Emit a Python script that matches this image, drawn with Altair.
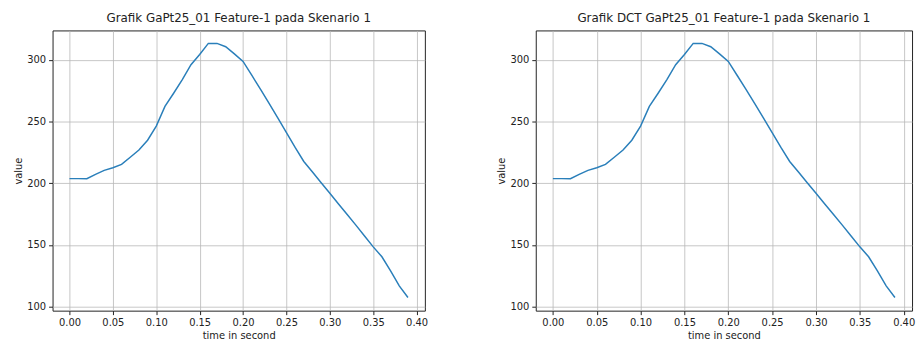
import altair as alt
import pandas as pd

time_s = [round(i * 0.01, 2) for i in range(40)]
values = [203.7, 203.7, 203.6, 207.2, 210.4, 212.5, 215.2, 221.0, 226.9, 234.8,
          246.3, 262.2, 272.9, 284.0, 296.0, 304.3, 313.3, 313.3, 310.6, 304.8,
          298.7, 287.5, 276.3, 264.6, 252.9, 241.0, 229.0, 217.6, 209.0, 200.3,
          191.8, 183.2, 174.7, 166.0, 157.2, 148.4, 140.4, 129.0, 116.8, 107.4]
titles = ["Grafik GaPt25_01 Feature-1 pada Skenario 1",
          "Grafik DCT GaPt25_01 Feature-1 pada Skenario 1"]
x_ticks = [0.0, 0.05, 0.10, 0.15, 0.20, 0.25, 0.30, 0.35, 0.40]
y_ticks = [100, 150, 200, 250, 300]

df = pd.DataFrame({"t": time_s, "v": values})

FONT = "DejaVu Sans"


def panel(title, width):
    return alt.Chart(df, title=alt.TitleParams(
        title, fontSize=12, font=FONT, fontWeight="normal", color="#222222",
        offset=6)).mark_line(color="#2a7fba", strokeWidth=1.5, clip=True).encode(
        x=alt.X("t:Q", title="time in second",
                scale=alt.Scale(domain=[-0.0195, 0.4095], nice=False, zero=False),
                axis=alt.Axis(values=x_ticks, format=".2f", labelFlush=False)),
        y=alt.Y("v:Q", title="value",
                scale=alt.Scale(domain=[96.7, 323.8], nice=False, zero=False),
                axis=alt.Axis(values=y_ticks, format="d")),
    ).properties(width=width, height=283)


chart = alt.hconcat(panel(titles[0], 376), panel(titles[1], 380),
                    spacing=112, bounds="flush").configure_axis(
    labelFont=FONT, titleFont=FONT, labelFontSize=10, titleFontSize=10,
    labelColor="#222222", titleColor="#222222", titleFontWeight="normal",
    tickColor="#222222", tickSize=4, domain=False,
    gridColor="#b8b8b8", gridOpacity=0.8, gridWidth=1,
    labelPadding=3, titlePadding=3,
).configure_view(stroke="#222222", strokeWidth=1).properties(padding={"left": 5, "top": 1, "right": 0, "bottom": 0})

chart.save("out.html", embed_options={"renderer": "svg", "actions": False})
